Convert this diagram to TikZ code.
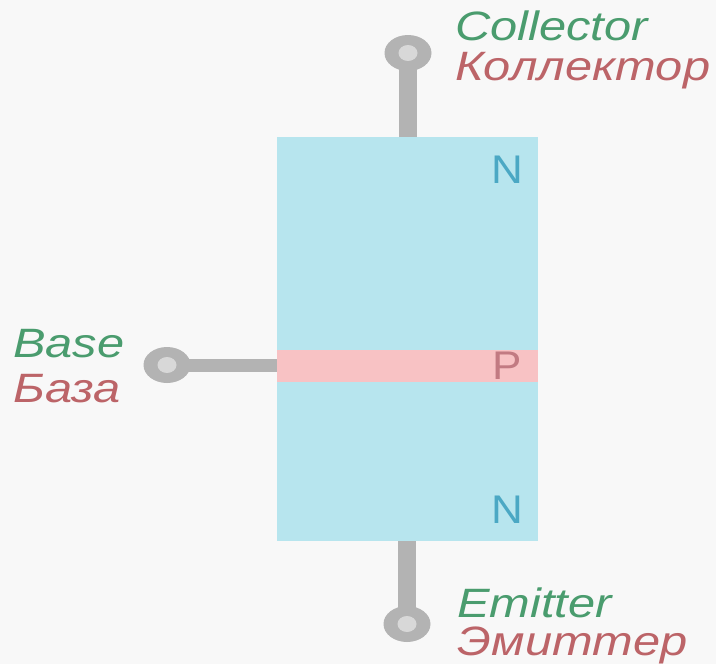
\documentclass[tikz,border=0pt]{standalone}
\usepackage{fontspec}
\usetikzlibrary{shapes.geometric}
\setmainfont{Liberation Sans}
\definecolor{bgc}{HTML}{F8F8F8}
\definecolor{blu}{HTML}{B7E5EE}
\definecolor{pnk}{HTML}{F8C2C4}
\definecolor{wire}{HTML}{B3B3B3}
\definecolor{termin}{HTML}{D8D8D8}
\definecolor{grn}{HTML}{4A9C6E}
\definecolor{rd}{HTML}{BC6468}
\definecolor{nc}{HTML}{4BA8C4}
\definecolor{pc}{HTML}{C27A82}
\tikzset{x=1pt,y=-1pt,
 lead/.style={draw=wire,line width=17.5pt},
 leadthin/.style={draw=wire,line width=13pt},
 term/.style={ellipse,fill=wire,minimum width=47pt,minimum height=36pt,inner sep=0pt,outer sep=0pt},
 hole/.style={ellipse,fill=termin,minimum width=19pt,minimum height=16pt,inner sep=0pt,outer sep=0pt},
 lab/.style={anchor=base west,inner sep=0pt,transform shape,xscale=1.19,font=\fontsize{41}{46}\selectfont\itshape},
 en/.style={lab,text=grn},
 ru/.style={lab,text=rd},
 letter/.style={inner sep=0pt,transform shape,xscale=1.1,font=\fontsize{40}{44}\selectfont}}
\begin{document}
\begin{tikzpicture}
\useasboundingbox[fill=bgc] (0,0) rectangle (716,664);
\fill[blu] (277,137) rectangle (538,541);
\fill[pnk] (277,350) rectangle (538,382);
\node[term] (c) at (408,53) {};
\node[term] (b) at (167,365) {};
\node[term] (e) at (407,624) {};
\coordinate (ct) at (408,137);
\coordinate (bt) at (277,365);
\coordinate (et) at (407,541);
\draw[lead] (c.center) -- (ct);
\draw[leadthin] (b.center) -- (bt);
\draw[lead] (e.center) -- (et);
\node[hole] (ch) at (c) {};
\node[hole] (bh) at (b) {};
\node[hole] (eh) at (e) {};
\node[letter,text=nc] (n1) at (507.5,170) {N};
\node[letter,text=pc] (p) at (507,366) {P};
\node[letter,text=nc] (n2) at (507.5,510) {N};
\node[en] (l1) at (455,40) {Collector};
\node[ru] (l2) at (455,80) {Коллектор};
\node[en] (l3) at (13,357) {Base};
\node[ru] (l4) at (13,402) {База};
\node[en] (l5) at (457,617) {Emitter};
\node[ru] (l6) at (457,655) {Эмиттер};
\end{tikzpicture}
\end{document}
